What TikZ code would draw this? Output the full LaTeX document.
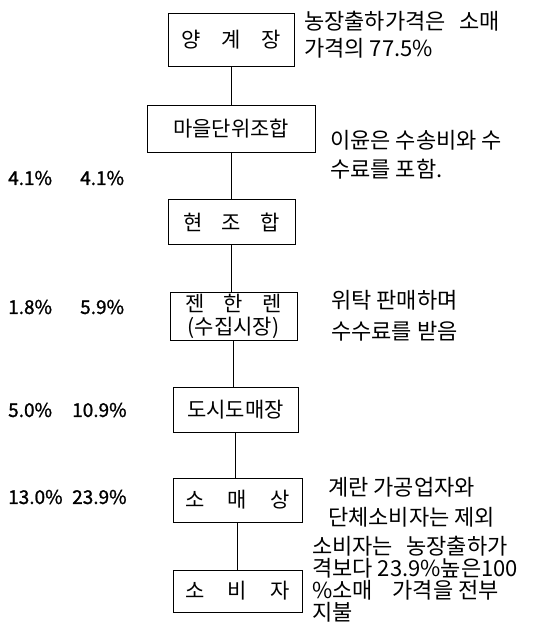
\documentclass[tikz,border=0pt]{standalone}
\usepackage{fontspec}
\newfontfamily\kr{Noto Sans CJK KR}
\newfontfamily\krb[FakeBold=1.2]{Noto Sans CJK KR}
\begin{document}
\begin{tikzpicture}[x=1pt,y=-1pt,
  box/.style={draw, line width=0.8pt, inner sep=0pt, align=center, font=\kr\fontsize{21}{23}\selectfont},
  note/.style={anchor=west, align=left, inner sep=0pt, font=\kr\fontsize{22}{29}\selectfont},
  pct/.style={anchor=west, inner sep=0pt, font=\krb\fontsize{19}{20}\selectfont},
  link/.style={line width=0.8pt}]
\useasboundingbox (0,0) rectangle (553,639);
% boxes
\node[box, minimum width=126pt, minimum height=53pt] (b1) at (231,40) {양\hspace{1em}계\hspace{1em}장};
\node[box, minimum width=168pt, minimum height=47pt] (b2) at (231,129) {마을단위조합};
\node[box, minimum width=127pt, minimum height=45pt] (b3) at (231.5,222) {현\hspace{0.9em}조\hspace{0.9em}합};
\node[box, minimum width=127pt, minimum height=48pt] (b4) at (233.5,316) {젠\hspace{0.9em}한\hspace{0.9em}렌\\(수집시장)};
\node[box, minimum width=125pt, minimum height=45pt] (b5) at (235.5,409.5) {도시도매장};
\node[box, minimum width=129pt, minimum height=44pt] (b6) at (237.5,500) {소\hspace{1.1em}매\hspace{1.1em}상};
\node[box, minimum width=129pt, minimum height=42pt] (b7) at (237.5,591) {소\hspace{1.1em}비\hspace{1.1em}자};
% connectors
\draw[link] (b1.south) -- (b1.south |- b2.north);
\draw[link] (b2.south) -- (b2.south |- b3.north);
\draw[link] (b3.south) -- (b3.south |- b4.north);
\draw[link] (b4.south) -- (b4.south |- b5.north);
\draw[link] (b5.south) -- (b5.south |- b6.north);
\draw[link] (b6.south) -- (b6.south |- b7.north);
% notes
\node[note, font=\kr\fontsize{22}{27}\selectfont] (n1) at (304,35) {농장출하가격은\hspace{0.6em}소매\\가격의 77.5\%};
\node[note] (n2) at (330,155) {이윤은 수송비와 수\\수료를 포함.};
\node[note, font=\kr\fontsize{22}{31}\selectfont] (n3) at (331,316) {위탁 판매하며\\수수료를 받음};
\node[note, font=\kr\fontsize{22}{30}\selectfont] (n4) at (328,502) {계란 가공업자와\\단체소비자는 제외};
\node[note, font=\kr\fontsize{22}{22}\selectfont] (n5) at (312,579) {소비자는\hspace{0.6em}농장출하가\\격보다 23.9\%높은100\\\%소매\hspace{0.9em}가격을 전부\\지불};
% percentages
\node[pct] (p1a) at (8,178) {4.1\%};
\node[pct] (p1b) at (80,178) {4.1\%};
\node[pct] (p2a) at (8,307) {1.8\%};
\node[pct] (p2b) at (80,307) {5.9\%};
\node[pct] (p3a) at (8,410) {5.0\%};
\node[pct] (p3b) at (72,410) {10.9\%};
\node[pct] (p4a) at (8,497) {13.0\%};
\node[pct] (p4b) at (72,497) {23.9\%};
\end{tikzpicture}
\end{document}
